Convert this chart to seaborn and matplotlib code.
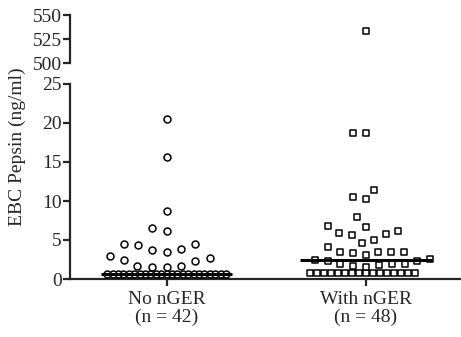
import numpy as np
import pandas as pd
import matplotlib
matplotlib.use("Agg")
import matplotlib.pyplot as plt
import seaborn as sns

# values (ng/ml)
groups = ["No nGER\n(n = 42)", "With nGER\n(n = 48)"]
no_nger = [20.5, 15.6, 8.7, 6.6, 6.2, 4.5, 4.4, 4.5, 3.9, 3.7, 3.5, 2.9, 2.5, 2.7,
           2.3, 1.7, 1.7, 1.5, 1.5] + [0.7] * 23
with_nger = [533, 18.7, 18.7, 11.4, 10.5, 10.2, 7.9, 6.7, 6.8, 5.9, 5.8, 6.1, 5.6,
             5.0, 4.1, 4.6, 3.5, 3.5, 3.3, 3.5, 3.5, 3.1, 2.6, 2.3, 2.3, 2.5,
             1.9, 1.9, 1.75, 1.5, 1.7, 1.9] + [0.73] * 16
markers = ["o", "s"]
yticks_low = [0, 5, 10, 15, 20, 25]
yticks_high = [500, 525, 550]
lod = 1.0  # values at the detection floor are packed tighter, like Prism does

df = pd.concat([
    pd.DataFrame({"group": groups[0], "pepsin": no_nger}),
    pd.DataFrame({"group": groups[1], "pepsin": with_nger}),
])

sns.set_style("ticks")
plt.rcParams["font.family"] = ["Liberation Serif", "DejaVu Serif"]
fs = 14

fig = plt.figure(figsize=(4.61, 3.37), dpi=100)
ax_lo = fig.add_axes([70 / 461, 58 / 337, 391 / 461, 195 / 337])
ax_hi = fig.add_axes([70 / 461, 274 / 337, 391 / 461, 48 / 337])

# layout footprint (pt) for floor values / for the rest
floor_size = {groups[0]: 2.6, groups[1]: 3.7}
spread_size = {groups[0]: 9.0, groups[1]: 7.8}

swarms = []
for ax in (ax_lo, ax_hi):
    for g, m in zip(groups, markers):
        sub = df[df["group"] == g]
        for part, sz in ((sub[sub["pepsin"] <= lod], floor_size[g]),
                         (sub[sub["pepsin"] > lod], spread_size[g])):
            n0 = len(ax.collections)
            sns.swarmplot(data=part, x="group", y="pepsin", order=groups,
                          marker=m, size=sz, color="white", edgecolor="black",
                          linewidth=1.1, ax=ax)
            swarms += ax.collections[n0:]
    ax.set_xlim(-0.485, 1.477)
    ax.set_xlabel("")
    ax.set_ylabel("")

ax_lo.set_ylim(0, 25)
ax_lo.set_yticks(yticks_low)
ax_hi.set_ylim(500, 550)
ax_hi.set_yticks(yticks_high)

# median lines
med = df.groupby("group", sort=False)["pepsin"].median()
for i, g in enumerate(groups):
    ax_lo.hlines(med[g], i - 0.33, i + 0.33, color="black", lw=2.2, zorder=5)

# lay the swarm out with its footprint, then draw the markers at full size
fig.canvas.draw()
for c in swarms:
    if "draw" in c.__dict__:
        del c.draw
    c.set_sizes([5.0 ** 2])

for ax in (ax_lo, ax_hi):
    for s in ("top", "right"):
        ax.spines[s].set_visible(False)
    ax.spines["left"].set_linewidth(1.6)
    ax.tick_params(axis="y", length=5, width=1.6, labelsize=fs, pad=1)
ax_lo.spines["bottom"].set_linewidth(1.6)
ax_lo.tick_params(axis="x", length=5, width=1.6, labelsize=fs, pad=4)
for lbl in ax_lo.get_xticklabels():
    lbl.set_linespacing(1.0)
ax_hi.spines["bottom"].set_visible(False)
ax_hi.tick_params(axis="x", bottom=False, labelbottom=False)

fig.text(17 / 461, (337 - 147) / 337, "EBC Pepsin (ng/ml)", rotation=90,
         ha="center", va="center", fontsize=fs)

fig.savefig("out.png", dpi=100)
